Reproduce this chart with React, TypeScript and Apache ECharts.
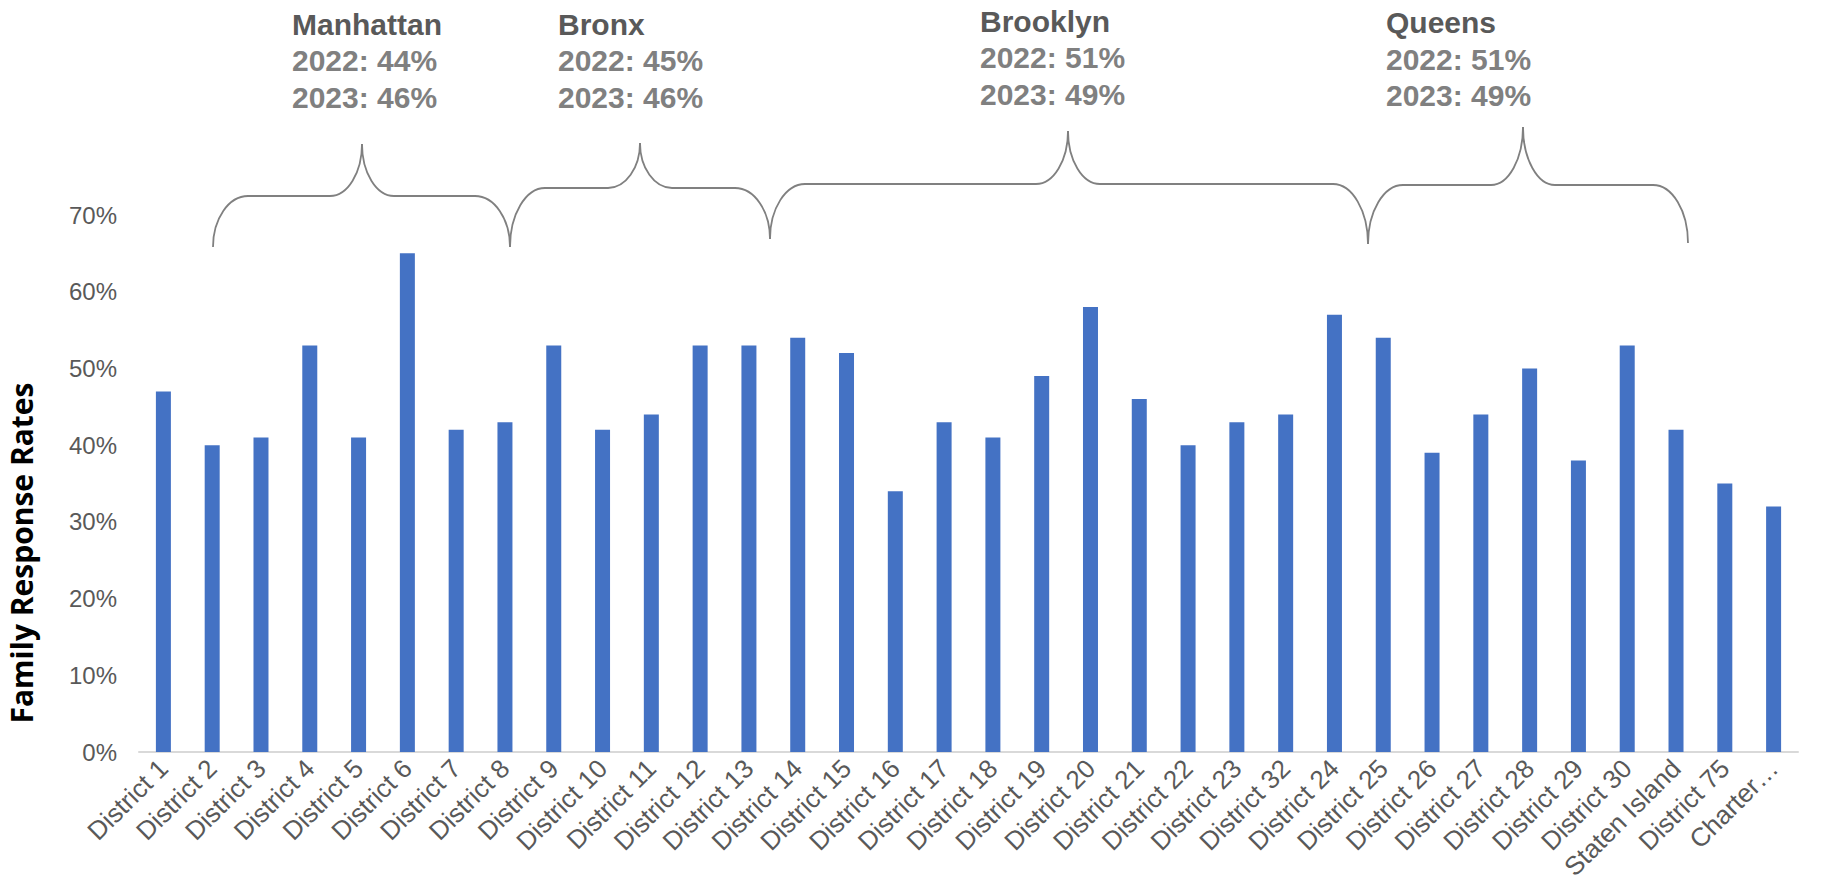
import React, { useEffect, useRef } from 'react';
import * as echarts from 'echarts';

// ---- data ----
const categories = [
  'District 1', 'District 2', 'District 3', 'District 4', 'District 5', 'District 6',
  'District 7', 'District 8', 'District 9', 'District 10', 'District 11', 'District 12',
  'District 13', 'District 14', 'District 15', 'District 16', 'District 17', 'District 18',
  'District 19', 'District 20', 'District 21', 'District 22', 'District 23', 'District 32',
  'District 24', 'District 25', 'District 26', 'District 27', 'District 28', 'District 29',
  'District 30', 'Staten Island', 'District 75', 'Charter…',
];
const responseRates = [
  47, 40, 41, 53, 41, 65, 42, 43, 53, 42, 44, 53, 53, 54, 52, 34, 43, 41,
  49, 58, 46, 40, 43, 44, 57, 54, 39, 44, 50, 38, 53, 42, 35, 32,
];
const boroughs = ['Manhattan', 'Bronx', 'Brooklyn', 'Queens'];
const rate2022 = ['44%', '45%', '51%', '51%'];
const rate2023 = ['46%', '46%', '49%', '49%'];
const yAxisTitle = 'Family Response Rates';

// ---- annotation layout (pixels) ----
const braceLayout = [
  { x1: 213, yb1: 247, x2: 510, yb2: 247, xm: 362, ym: 196, yt: 144 },
  { x1: 510, yb1: 247, x2: 770, yb2: 239, xm: 640, ym: 188, yt: 143 },
  { x1: 770, yb1: 239, x2: 1368, yb2: 244, xm: 1068, ym: 184, yt: 131 },
  { x1: 1368, yb1: 244, x2: 1688, yb2: 243, xm: 1523, ym: 185, yt: 127 },
];
const labelLayout = [
  { x: 292, y: 24 },
  { x: 558, y: 24 },
  { x: 980, y: 21 },
  { x: 1386, y: 22.5 },
];

const K = 0.552;
function braceElements(b: any) {
  const rx = 35;
  const rp = 32;
  const style = { stroke: '#808080', lineWidth: 1.8, fill: null };
  return [
    {
      type: 'bezierCurve', silent: true, style,
      shape: {
        x1: b.x1, y1: b.yb1, x2: b.x1 + rx, y2: b.ym,
        cpx1: b.x1, cpy1: b.yb1 - K * (b.yb1 - b.ym),
        cpx2: b.x1 + rx - K * rx, cpy2: b.ym,
      },
    },
    { type: 'line', silent: true, style, shape: { x1: b.x1 + rx, y1: b.ym, x2: b.xm - rp, y2: b.ym } },
    {
      type: 'bezierCurve', silent: true, style,
      shape: {
        x1: b.xm - rp, y1: b.ym, x2: b.xm, y2: b.yt,
        cpx1: b.xm - rp + K * rp, cpy1: b.ym,
        cpx2: b.xm, cpy2: b.yt + K * (b.ym - b.yt),
      },
    },
    {
      type: 'bezierCurve', silent: true, style,
      shape: {
        x1: b.xm, y1: b.yt, x2: b.xm + rp, y2: b.ym,
        cpx1: b.xm, cpy1: b.yt + K * (b.ym - b.yt),
        cpx2: b.xm + rp - K * rp, cpy2: b.ym,
      },
    },
    { type: 'line', silent: true, style, shape: { x1: b.xm + rp, y1: b.ym, x2: b.x2 - rx, y2: b.ym } },
    {
      type: 'bezierCurve', silent: true, style,
      shape: {
        x1: b.x2 - rx, y1: b.ym, x2: b.x2, y2: b.yb2,
        cpx1: b.x2 - rx + K * rx, cpy1: b.ym,
        cpx2: b.x2, cpy2: b.yb2 - K * (b.yb2 - b.ym),
      },
    },
  ];
}

const LABEL_FONT = 'bold 30px "Liberation Sans", Arial, sans-serif';

export default function App() {
  const ref = useRef<HTMLDivElement>(null);
  useEffect(() => {
    if (!ref.current) return;
    const chart = echarts.init(ref.current, null, { renderer: 'svg' });

    const graphics: any[] = [];
    braceLayout.forEach((b) => graphics.push(...braceElements(b)));
    boroughs.forEach((name, i) => {
      const p = labelLayout[i];
      const lines = [
        { text: name, fill: '#595959' },
        { text: '2022: ' + rate2022[i], fill: '#808080' },
        { text: '2023: ' + rate2023[i], fill: '#808080' },
      ];
      lines.forEach((ln, j) => {
        graphics.push({
          type: 'text', silent: true,
          x: p.x, y: p.y + j * 36.5,
          style: {
            text: ln.text, font: LABEL_FONT, fill: ln.fill,
            textAlign: 'left', textVerticalAlign: 'middle',
            align: 'left', verticalAlign: 'middle',
          },
        });
      });
    });
    graphics.push({
      type: 'text', silent: true,
      x: 21, y: 553, rotation: Math.PI / 2,
      style: {
        text: yAxisTitle, font: 'bold 30px "Open Sans", sans-serif', fill: '#000000',
        textAlign: 'center', textVerticalAlign: 'middle',
        align: 'center', verticalAlign: 'middle',
      },
    });

    chart.setOption({
      animation: false,
      backgroundColor: '#ffffff',
      grid: { left: 139, right: 29, top: 215, bottom: 141, containLabel: false },
      xAxis: {
        type: 'category',
        data: categories,
        axisLine: { show: true, lineStyle: { color: '#d9d9d9', width: 2 } },
        axisTick: { show: false },
        axisLabel: {
          interval: 0, rotate: 45, margin: 12,
          fontSize: 26, color: '#595959',
          fontFamily: '"Liberation Sans", Arial, sans-serif',
        },
      },
      yAxis: {
        type: 'value',
        min: 0, max: 70, interval: 10,
        splitLine: { show: false },
        axisLine: { show: false },
        axisTick: { show: false },
        axisLabel: {
          formatter: '{value}%', margin: 22,
          fontSize: 24, color: '#595959',
          fontFamily: '"Liberation Sans", Arial, sans-serif',
        },
      },
      series: [
        {
          type: 'bar',
          data: responseRates,
          barWidth: 15,
          itemStyle: { color: '#4472C4' },
        },
      ],
      graphic: graphics,
    });

    return () => chart.dispose();
  }, []);

  return (
    <div
      ref={ref}
      style={{ position: 'fixed', left: 0, top: 0, width: 1827, height: 893, background: '#fff' }}
    />
  );
}
